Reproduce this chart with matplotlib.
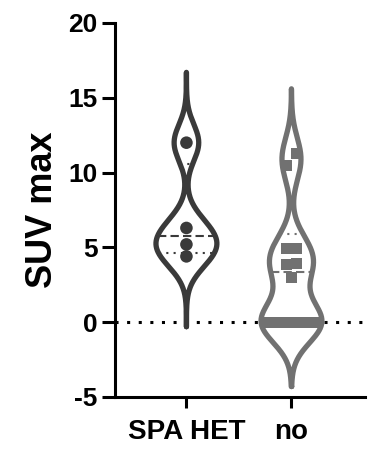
import numpy as np
import matplotlib
matplotlib.use("Agg")
import matplotlib.pyplot as plt

plt.rcParams['font.family'] = ['Liberation Sans', 'DejaVu Sans']
plt.rcParams['font.weight'] = 'bold'
plt.rcParams['axes.unicode_minus'] = False

# values
groups = ['SPA HET', 'no']
spa_het = [4.4, 5.2, 6.3, 12.0]
no_spa = [0, 0, 0, 0, 0, 0, 3.0, 3.85, 3.9, 4.9, 4.95, 10.5, 11.3]
medians = [5.75, 3.35]
q1 = [4.6, 0.0]
q3 = [10.55, 5.9]

colors = ['#3a3a3a', '#717171']
markers = ['o', 's']
bw = [1.22, 1.38]     # kernel width per violin
tail = [4.7, 4.3]     # how far the violin runs past the data
row_gap = [0.5, 0.82] # points closer than this share a row
half_w = 0.29         # widest half-width, in category units


def kde(vals, h, grid):
    vals = np.asarray(vals, float)
    return np.exp(-0.5 * ((grid[:, None] - vals[None, :]) / h) ** 2).sum(axis=1)


def rows_offsets(vals, dy, dx):
    # points closer than dy share a row, each row is centred
    vals = np.asarray(vals, float)
    order = np.argsort(vals)
    offs = np.zeros(len(vals))
    row = [order[0]]
    rows = []
    for i in order[1:]:
        if vals[i] - vals[row[0]] < dy:
            row.append(i)
        else:
            rows.append(row)
            row = [i]
    rows.append(row)
    for r in rows:
        n = len(r)
        for k, i in enumerate(r):
            offs[i] = (k - (n - 1) / 2) * dx
    return offs


fig = plt.figure(figsize=(3.73, 4.55), dpi=100)
ax = fig.add_axes([115 / 373, 1 - 397 / 455, (365 - 115) / 373, (397 - 23) / 455])

ax.axhline(0, color='black', lw=2.2, ls=(0, (1, 2.8)), zorder=1)

for i, data in enumerate([spa_het, no_spa]):
    grid = np.linspace(min(data) - tail[i], max(data) + tail[i], 400)
    dens = kde(data, bw[i], grid)
    w = dens / dens.max() * half_w
    xs = np.concatenate([i + w, (i - w)[::-1], [i + w[0]]])
    ys = np.concatenate([grid, grid[::-1], [grid[0]]])
    ax.plot(xs, ys, color=colors[i], lw=3.8, solid_joinstyle='round',
            solid_capstyle='round', zorder=3)

    # quartile lines across the violin
    for val, ls in [(medians[i], (0, (4, 2))), (q1[i], (0, (1, 2.5))), (q3[i], (0, (1, 2.5)))]:
        ww = np.interp(val, grid, w)
        ax.plot([i - ww, i + ww], [val, val], color=colors[i], lw=1.5, ls=ls, zorder=2)

    offs = rows_offsets(data, row_gap[i], 0.1)
    ax.scatter(i + offs, data, marker=markers[i], s=82 if i == 0 else 64,
               color=colors[i], edgecolor='none', zorder=4)

ax.set_xlim(-0.68, 1.7)
ax.set_ylim(-5, 20)
ax.set_yticks([-5, 0, 5, 10, 15, 20])
ax.set_xticks([0, 1])
ax.set_xticklabels(groups, fontsize=20, fontweight='bold')
ax.tick_params(axis='y', labelsize=19, width=2.2, length=9.5, pad=3)
ax.tick_params(axis='x', width=2.2, length=8, pad=8)
for lab in ax.get_yticklabels():
    lab.set_fontweight('bold')
ax.set_ylabel('SUV max', fontsize=26, fontweight='bold', labelpad=6)
for s in ['top', 'right']:
    ax.spines[s].set_visible(False)
for s in ['left', 'bottom']:
    ax.spines[s].set_linewidth(2.2)

fig.savefig('out.png', dpi=100)
